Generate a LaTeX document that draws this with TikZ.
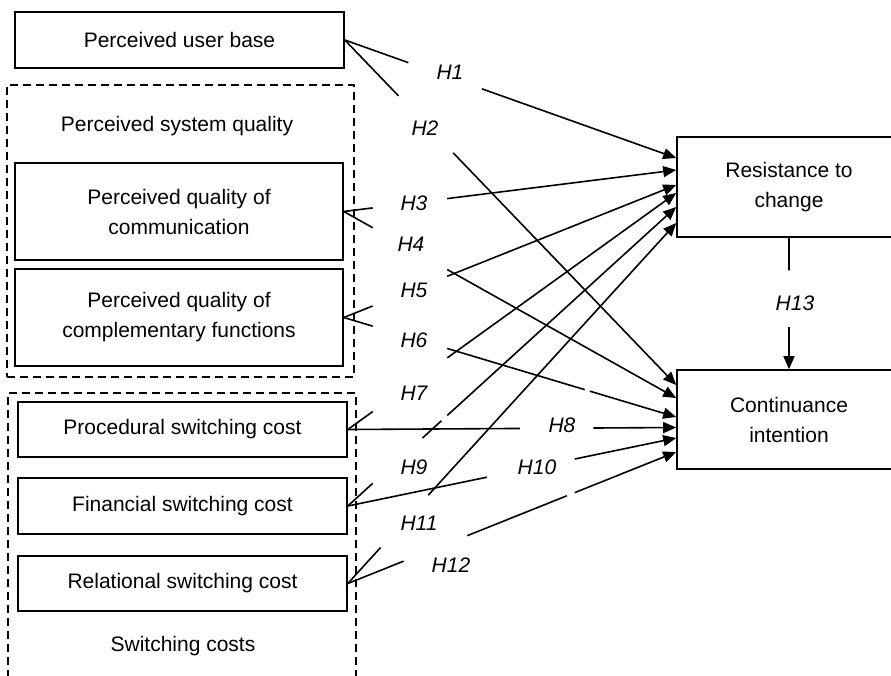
\documentclass[tikz,border=0pt]{standalone}
\usepackage{fontspec}
\setmainfont{Liberation Sans}
\usetikzlibrary{calc,arrows.meta}

%% a hypothesis path: source, target, where the gap for the label starts and ends
\def\hypline#1#2#3#4{%
    \draw (#1) -- ($(#1)!#3!(#2)$);
    \draw[hyparrow] ($(#1)!#4!(#2)$) -- (#2);}
%% same, with one more small break further along
\def\hypbroken#1#2#3#4#5#6{%
    \draw (#1) -- ($(#1)!#3!(#2)$);
    \draw ($(#1)!#4!(#2)$) -- ($(#1)!#5!(#2)$);
    \draw[hyparrow] ($(#1)!#6!(#2)$) -- (#2);}

\begin{document}
\begin{tikzpicture}[x=0.5pt,y=-0.5pt,line width=0.8pt,
    font=\fontsize{10.5}{15}\selectfont,
    box/.style={draw,align=center,inner sep=0pt},
    group/.style={draw,dash pattern=on 4pt off 2.5pt,line width=0.7pt,inner sep=0pt},
    hyp/.style={font=\fontsize{10.5}{15}\selectfont\itshape},
    hyparrow/.style={-{Triangle[length=6.5pt,width=5.5pt]}}]
    \useasboundingbox (0,0) rectangle (891,676);
    \clip (0,0) rectangle (891,676);

    %% Constructs on the left
    \node[box,minimum width=164.5pt,minimum height=28pt] (ub) at (179.5,40) {Perceived user base};

    \node[group,minimum width=173.5pt,minimum height=146pt] (qual) at (180.5,231) {};
    \node (qualtext) at (177,126) {Perceived system quality};
    \node[box,minimum width=164pt,minimum height=48.5pt] (com) at (179,211.5) {Perceived quality of\\communication};
    \node[box,minimum width=164pt,minimum height=48.5pt] (cf) at (179,317.5) {Perceived quality of\\complementary functions};

    \node[group,minimum width=174pt,minimum height=157pt] (swc) at (182,550) {};
    \node (swctext) at (183,646) {Switching costs};
    \node[box,minimum width=164.5pt,minimum height=27.5pt] (pr) at (182.5,429.5) {Procedural switching cost};
    \node[box,minimum width=164.5pt,minimum height=28pt] (fi) at (182.5,506) {Financial switching cost};
    \node[box,minimum width=164.5pt,minimum height=27.5pt] (re) at (182.5,583.5) {Relational switching cost};

    %% Outcomes on the right
    \node[box,minimum width=112pt,minimum height=50pt] (rc) at (789,187) {Resistance to\\change};
    \node[box,minimum width=112pt,minimum height=49.5pt] (ci) at (789,419.5) {Continuance\\intention};

    %% Where the arrows land
    \coordinate (rc1) at ($(rc.west)+(0,-29)$);
    \coordinate (rc2) at ($(rc.west)+(0,-17)$);
    \coordinate (rc3) at ($(rc.west)+(0,-2)$);
    \coordinate (rc4) at ($(rc.west)+(0,6)$);
    \coordinate (rc5) at ($(rc.west)+(0,20)$);
    \coordinate (rc6) at ($(rc.west)+(0,36)$);
    \coordinate (ci1) at ($(ci.west)+(0,-34.5)$);
    \coordinate (ci2) at ($(ci.west)+(0,-21.5)$);
    \coordinate (ci3) at ($(ci.west)+(0,-2.5)$);
    \coordinate (ci4) at ($(ci.west)+(0,8)$);
    \coordinate (ci5) at ($(ci.west)+(0,18.5)$);
    \coordinate (ci6) at ($(ci.west)+(0,32.5)$);

    %% Hypothesis labels
    \node[hyp] (h1) at (450,72) {H1};
    \node[hyp] (h2) at (425,128) {H2};
    \node[hyp] (h3) at (414,203) {H3};
    \node[hyp] (h4) at (411,244) {H4};
    \node[hyp] (h5) at (414,290) {H5};
    \node[hyp] (h6) at (414,340) {H6};
    \node[hyp] (h7) at (414,393) {H7};
    \node[hyp] (h8) at (562,425) {H8};
    \node[hyp] (h9) at (414,467) {H9};
    \node[hyp] (h10) at (537,467) {H10};
    \node[hyp] (h11) at (419,523) {H11};
    \node[hyp] (h12) at (451,565) {H12};
    \node[hyp] (h13) at (795,303) {H13};

    %% The paths
    \hypline{ub.east}{rc1}{0.192}{0.414}
    \hypline{ub.east}{ci1}{0.162}{0.327}
    \hypline{com.east}{rc2}{0.087}{0.311}
    \hypline{com.east}{ci2}{0.087}{0.311}
    \hypline{cf.east}{rc3}{0.087}{0.311}
    \hypbroken{cf.east}{ci3}{0.087}{0.311}{0.725}{0.740}
    \hypline{pr.east}{rc4}{0.076}{0.303}
    \hypline{pr.east}{ci4}{0.524}{0.748}
    \hypbroken{fi.east}{rc5}{0.076}{0.227}{0.285}{0.303}
    \hypline{fi.east}{ci5}{0.424}{0.691}
    \hypline{re.east}{rc6}{0.1}{0.245}
    \hypbroken{re.east}{ci6}{0.17}{0.364}{0.667}{0.691}
    \hypline{rc.south}{ci.north}{0.248}{0.677}

\end{tikzpicture}
\end{document}
